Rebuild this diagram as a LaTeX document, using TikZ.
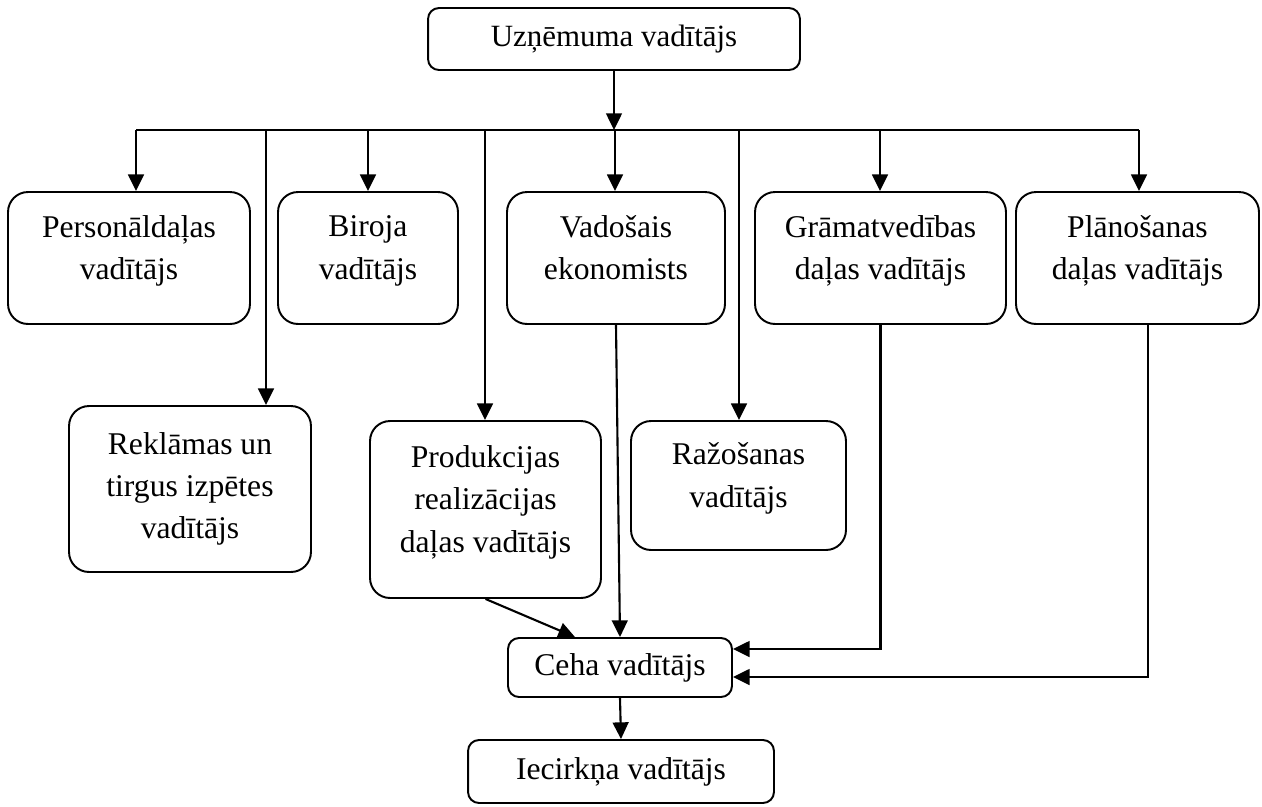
\documentclass[tikz,border=0pt]{standalone}
\usepackage{fontspec}
\setmainfont{Liberation Serif}
\usetikzlibrary{arrows.meta}

\tikzset{
  box/.style={draw, rounded corners=0.4cm, line width=1.1pt, align=center, inner sep=0pt,
    font=\fontsize{18}{24}\selectfont},
  smallbox/.style={box, rounded corners=0.22cm},
  lift/.style={text depth=12pt},
  arr/.style={-{Triangle[width=9pt,length=9.5pt]}, line width=1.2pt},
  bus/.style={line width=1.2pt}
}

\begin{document}
\begin{tikzpicture}[x=0.02cm, y=-0.02cm]
    \useasboundingbox (0,0) rectangle (1262,806);
    % boxes
    \node[smallbox, minimum width=7.44cm, minimum height=1.24cm, font=\fontsize{17.6}{22}\selectfont] (boss) at (614,39) {Uzņēmuma vadītājs};
    \node[box, lift, minimum width=4.84cm, minimum height=2.64cm] (pers) at (129,258) {Personāldaļas\\vadītājs};
    \node[box, lift, minimum width=3.6cm, minimum height=2.64cm] (biro) at (368,258) {Biroja\\vadītājs};
    \node[box, lift, minimum width=4.36cm, minimum height=2.64cm] (vad) at (616,258) {Vadošais\\ekonomists};
    \node[box, lift, minimum width=5.02cm, minimum height=2.64cm] (gram) at (880.5,258) {Grāmatvedības\\daļas vadītājs};
    \node[box, lift, minimum width=4.86cm, minimum height=2.64cm] (plan) at (1137.5,258) {Plānošanas\\daļas vadītājs};
    \node[box, minimum width=4.84cm, minimum height=3.32cm] (rekl) at (190,489) {Reklāmas un\\tirgus izpētes\\vadītājs};
    \node[box, lift, minimum width=4.62cm, minimum height=3.54cm] (prod) at (485.5,509.5) {Produkcijas\\realizācijas\\daļas vadītājs};
    \node[box, lift, minimum width=4.3cm, minimum height=2.58cm] (raz) at (738.5,485.5) {Ražošanas\\vadītājs};
    \node[smallbox, minimum width=4.48cm, minimum height=1.18cm] (ceha) at (620,667.5) {Ceha vadītājs};
    \node[smallbox, minimum width=6.12cm, minimum height=1.26cm] (iec) at (621,771.5) {Iecirkņa vadītājs};
    % bus line
    \coordinate (c-pers) at (136,130);
    \coordinate (c-rekl) at (266,130);
    \coordinate (c-biro) at (368,130);
    \coordinate (c-prod) at (485,130);
    \coordinate (c-vad) at (615,130);
    \coordinate (c-raz) at (739,130);
    \coordinate (c-gram) at (880,130);
    \coordinate (c-plan) at (1139,130);
    \draw[bus] (c-pers) -- (c-plan);
    \draw[arr] (boss.south) -- (boss.south |- c-vad);
    % down to the boxes
    \draw[arr] (c-pers) -- (c-pers |- pers.north);
    \draw[arr] (c-rekl) -- (c-rekl |- rekl.north);
    \draw[arr] (c-biro) -- (c-biro |- biro.north);
    \draw[arr] (c-prod) -- (c-prod |- prod.north);
    \draw[arr] (c-vad) -- (c-vad |- vad.north);
    \draw[arr] (c-raz) -- (c-raz |- raz.north);
    \draw[arr] (c-gram) -- (c-gram |- gram.north);
    \draw[arr] (c-plan) -- (c-plan |- plan.north);
    % into Ceha
    \draw[arr] (prod.south) -- ([xshift=-0.9cm]ceha.north);
    \draw[arr] (vad.south) -- (ceha.north);
    \draw[arr] (gram.south) |- ([yshift=0.37cm]ceha.east);
    \draw[arr] ([xshift=0.21cm]plan.south) |- ([yshift=-0.19cm]ceha.east);
    \draw[arr] (ceha.south) -- (iec.north);
\end{tikzpicture}
\end{document}
